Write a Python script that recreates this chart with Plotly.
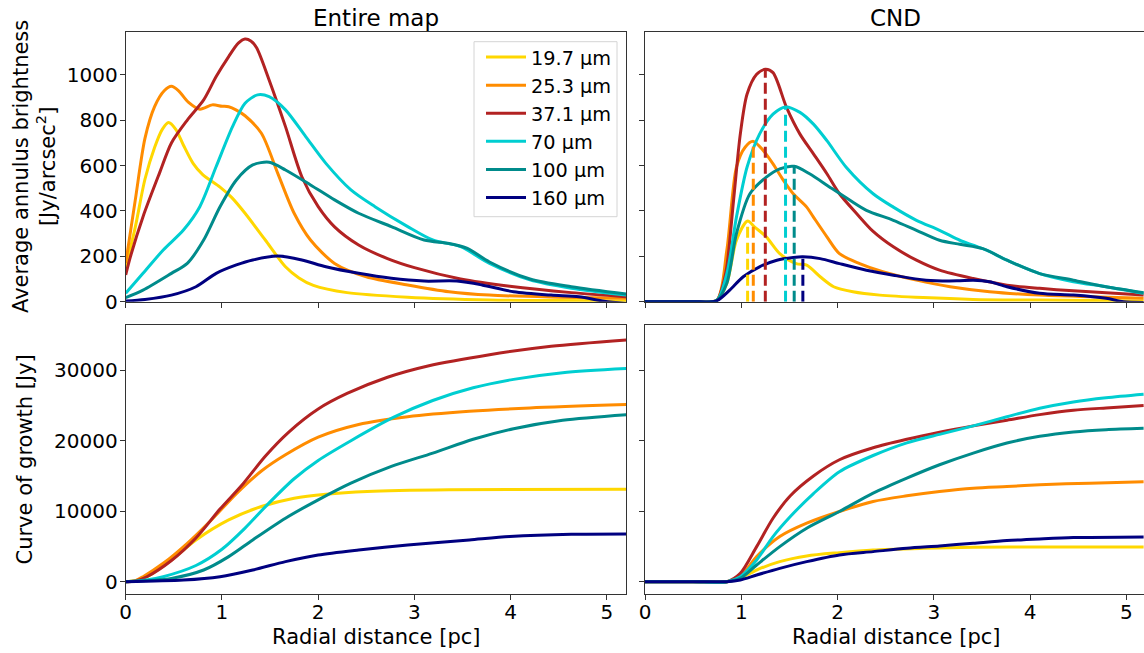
import numpy as np
import plotly.graph_objects as go

# ---------------------------------------------------------------
# Wavelength bands and their colours
# ---------------------------------------------------------------
bands = ["19.7 µm", "25.3 µm", "37.1 µm", "70 µm", "100 µm", "160 µm"]
colors = ["#FFD700", "#FF8C00", "#B22222", "#00CED1", "#008B8B", "#000080"]

# ---------------------------------------------------------------
# Entire map: average annulus brightness [Jy/arcsec^2]
# ---------------------------------------------------------------
ent_b_x_197 = [0, 0.1, 0.2, 0.3, 0.38, 0.445, 0.52, 0.6, 0.7, 0.8, 0.98, 1.1, 1.24, 1.45, 1.66, 1.8, 1.95, 2.3, 2.93, 3.78, 4.5, 5.2]
ent_b_y_197 = [150, 330, 540, 680, 760, 790, 760, 690, 610, 560, 505, 460, 390, 272, 154, 105, 72, 40, 20, 8, 5, 3]

ent_b_x_253 = [0, 0.1, 0.2, 0.3, 0.4, 0.475, 0.55, 0.65, 0.77, 0.9, 1.0, 1.07, 1.15, 1.24, 1.41, 1.58, 1.75, 1.92, 2.17, 2.5, 2.93, 3.36, 3.78, 4.5, 5.2]
ent_b_y_253 = [170, 450, 720, 860, 930, 950, 930, 880, 849, 868, 862, 860, 845, 820, 743, 566, 390, 272, 169, 110, 74, 44, 29, 20, 15]

ent_b_x_371 = [0, 0.05, 0.18, 0.35, 0.475, 0.64, 0.81, 0.94, 1.07, 1.17, 1.24, 1.3, 1.36, 1.49, 1.66, 1.83, 2.0, 2.17, 2.42, 2.72, 3.0, 3.48, 3.99, 4.63, 5.2]
ent_b_y_371 = [118, 200, 375, 566, 700, 801, 890, 993, 1081, 1140, 1158, 1150, 1120, 978, 772, 551, 419, 330, 250, 190, 150, 100, 68, 40, 22]

ent_b_x_70 = [0, 0.18, 0.39, 0.6, 0.77, 0.94, 1.11, 1.24, 1.37, 1.49, 1.66, 1.87, 2.08, 2.34, 2.59, 2.93, 3.19, 3.48, 3.78, 4.2, 4.63, 5.2]
ent_b_y_70 = [37, 125, 228, 316, 419, 596, 772, 875, 912, 904, 846, 728, 610, 493, 419, 331, 272, 243, 169, 96, 59, 29]

ent_b_x_100 = [0, 0.18, 0.475, 0.64, 0.81, 0.98, 1.15, 1.32, 1.49, 1.66, 1.92, 2.17, 2.42, 2.76, 3.1, 3.36, 3.55, 3.78, 4.2, 4.63, 5.2]
ent_b_y_100 = [18, 51, 125, 169, 272, 419, 537, 603, 615, 581, 515, 449, 390, 331, 272, 257, 235, 175, 100, 66, 34]

ent_b_x_160 = [0, 0.2, 0.475, 0.73, 0.94, 1.15, 1.32, 1.58, 1.83, 2.08, 2.42, 2.76, 3.1, 3.44, 3.7, 4.03, 4.42, 4.71, 4.97, 5.2]
ent_b_y_160 = [3, 10, 29, 66, 125, 162, 184, 201, 184, 154, 125, 103, 91, 91, 74, 44, 29, 22, 2, -8]

# ---------------------------------------------------------------
# CND: average annulus brightness [Jy/arcsec^2]
# ---------------------------------------------------------------
cnd_b_x_197 = [0, 0.5, 0.744, 0.85, 0.95, 1.066, 1.14, 1.26, 1.4, 1.57, 1.68, 1.82, 1.96, 2.16, 2.44, 2.89, 3.41, 4.1, 5.18]
cnd_b_y_197 = [0, 0, 5, 81, 271, 356, 329, 286, 212, 168, 161, 110, 66, 44, 29, 18, 10, 7, 3]

cnd_b_x_253 = [0, 0.5, 0.744, 0.85, 0.95, 1.04, 1.125, 1.23, 1.33, 1.44, 1.54, 1.68, 1.75, 1.89, 2.02, 2.23, 2.47, 2.82, 3.17, 3.58, 4.1, 4.62, 5.18]
cnd_b_y_253 = [0, 0, 5, 227, 593, 681, 707, 666, 608, 534, 476, 417, 373, 286, 212, 168, 132, 95, 66, 44, 29, 22, 15]

cnd_b_x_371 = [0, 0.5, 0.744, 0.8, 0.85, 0.92, 0.99, 1.06, 1.16, 1.25, 1.33, 1.47, 1.61, 1.75, 1.89, 2.02, 2.2, 2.37, 2.58, 2.82, 3.06, 3.41, 3.76, 4.1, 4.45, 4.79, 5.18]
cnd_b_y_371 = [0, 0, 5, 60, 154, 447, 739, 915, 1003, 1025, 1010, 857, 739, 652, 564, 476, 388, 310, 242, 183, 139, 102, 73, 59, 48, 40, 29]

cnd_b_x_70 = [0, 0.5, 0.744, 0.85, 0.95, 1.06, 1.19, 1.33, 1.46, 1.61, 1.75, 1.89, 2.09, 2.37, 2.58, 2.82, 3.06, 3.27, 3.41, 3.55, 3.76, 4.1, 4.45, 4.79, 5.18]
cnd_b_y_70 = [0, 0, 5, 124, 373, 593, 739, 827, 859, 835, 783, 710, 593, 476, 417, 359, 315, 271, 249, 227, 183, 124, 88, 66, 37]

cnd_b_x_100 = [0, 0.5, 0.744, 0.85, 0.95, 1.09, 1.26, 1.4, 1.55, 1.71, 1.92, 2.13, 2.3, 2.58, 2.82, 3.06, 3.27, 3.51, 3.76, 4.1, 4.45, 4.79, 5.18]
cnd_b_y_100 = [0, 0, 5, 81, 300, 476, 549, 586, 597, 564, 505, 447, 403, 359, 315, 271, 253, 234, 183, 124, 95, 66, 40]

cnd_b_x_160 = [0, 0.5, 0.744, 0.88, 1.02, 1.19, 1.37, 1.54, 1.64, 1.82, 2.02, 2.3, 2.58, 2.92, 3.24, 3.41, 3.58, 3.76, 4.1, 4.45, 4.79, 4.97, 5.18]
cnd_b_y_160 = [0, 0, 4, 51, 110, 154, 183, 195, 198, 190, 168, 139, 117, 95, 92, 95, 88, 66, 37, 29, 15, 0, -3]

# ---------------------------------------------------------------
# Entire map: curve of growth [Jy]
# ---------------------------------------------------------------
ent_g_x_197 = [0, 0.1, 0.22, 0.475, 0.73, 1.07, 1.41, 1.75, 2.08, 2.51, 3.36, 5.2]
ent_g_y_197 = [0, 150, 711, 3081, 5924, 8768, 10663, 11848, 12417, 12796, 13033, 13128]

ent_g_x_253 = [0, 0.1, 0.18, 0.39, 0.64, 0.9, 1.15, 1.41, 1.66, 2.0, 2.42, 2.93, 3.57, 4.2, 5.2]
ent_g_y_253 = [0, 150, 711, 2607, 5450, 8900, 12500, 15700, 18000, 20500, 22300, 23400, 24171, 24645, 25118]

ent_g_x_371 = [0, 0.1, 0.22, 0.475, 0.73, 0.98, 1.22, 1.45, 1.7, 2.0, 2.3, 2.72, 3.14, 3.78, 4.42, 5.2]
ent_g_y_371 = [0, 100, 700, 3000, 6200, 10300, 13900, 17800, 21300, 24500, 26700, 29000, 30600, 32200, 33400, 34300]

ent_g_x_70 = [0, 0.2, 0.39, 0.73, 1.0, 1.24, 1.47, 1.75, 2.0, 2.34, 2.78, 3.19, 3.61, 4.03, 4.54, 5.2]
ent_g_y_70 = [0, 200, 711, 2300, 4600, 7600, 10900, 14600, 17200, 20000, 23300, 25700, 27500, 28700, 29650, 30237]

ent_g_x_100 = [0, 0.475, 0.81, 1.07, 1.32, 1.66, 2.0, 2.34, 2.76, 3.19, 3.61, 4.03, 4.54, 5.2]
ent_g_y_100 = [0, 474, 1659, 3555, 5924, 9005, 11611, 13981, 16351, 18246, 20200, 21700, 22900, 23697]

ent_g_x_160 = [0, 0.6, 0.98, 1.32, 1.66, 2.0, 2.42, 2.93, 3.57, 3.99, 4.63, 5.2]
ent_g_y_160 = [0, 237, 711, 1659, 2844, 3791, 4502, 5213, 5924, 6398, 6730, 6777]

# ---------------------------------------------------------------
# CND: curve of growth [Jy]
# ---------------------------------------------------------------
cnd_g_x_197 = [0, 0.5, 0.85, 0.99, 1.16, 1.4, 1.68, 2.02, 2.37, 2.89, 3.41, 4.1, 5.18]
cnd_g_y_197 = [0, 0, 0, 474, 1659, 2844, 3649, 4123, 4502, 4739, 4882, 4929, 4929]

cnd_g_x_253 = [0, 0.5, 0.85, 0.99, 1.16, 1.4, 1.68, 2.02, 2.37, 2.72, 3.06, 3.41, 3.76, 4.1, 4.62, 5.18]
cnd_g_y_253 = [0, 0, 0, 711, 3555, 6398, 8294, 9953, 11374, 12180, 12796, 13270, 13507, 13744, 13981, 14171]

cnd_g_x_371 = [0, 0.5, 0.85, 0.99, 1.16, 1.33, 1.51, 1.75, 2.02, 2.37, 2.72, 3.06, 3.41, 3.76, 4.1, 4.45, 4.79, 5.18]
cnd_g_y_371 = [0, 0, 0, 1185, 4976, 9000, 12200, 15000, 17300, 19000, 20200, 21200, 22100, 22900, 23697, 24313, 24645, 24976]

cnd_g_x_70 = [0, 0.5, 0.85, 0.99, 1.16, 1.33, 1.51, 1.75, 2.02, 2.37, 2.72, 3.06, 3.41, 3.76, 4.1, 4.45, 4.79, 5.18]
cnd_g_y_70 = [0, 0, 0, 711, 3081, 6398, 9242, 12500, 15600, 17900, 19700, 20900, 22100, 23400, 24600, 25500, 26100, 26600]

cnd_g_x_100 = [0, 0.5, 0.85, 0.99, 1.16, 1.4, 1.68, 2.02, 2.37, 2.72, 3.06, 3.41, 3.76, 4.1, 4.45, 4.79, 5.18]
cnd_g_y_100 = [0, 0, 0, 474, 2370, 4976, 7583, 9953, 12559, 14692, 16588, 18246, 19668, 20616, 21232, 21564, 21754]

cnd_g_x_160 = [0, 0.5, 0.85, 0.99, 1.16, 1.4, 1.68, 2.02, 2.37, 2.72, 3.06, 3.41, 3.76, 4.1, 4.45, 5.18]
cnd_g_y_160 = [0, 0, 0, 237, 948, 1896, 2844, 3791, 4265, 4739, 5071, 5450, 5829, 6066, 6256, 6351]

# Axis ticks
x_ticks = [0, 1, 2, 3, 4, 5]
bright_ticks = [0, 200, 400, 600, 800, 1000]
growth_ticks = [0, 10000, 20000, 30000]

# ---------------------------------------------------------------
# Panel geometry (paper fractions)
# ---------------------------------------------------------------
W, H = 1144, 653
left_dom = [125.7 / W, 626.2 / W]
right_dom = [645.0 / W, 1.0]
top_dom = [1 - 301.7 / H, 1 - 32.3 / H]
bot_dom = [1 - 594.0 / H, 1 - 325.0 / H]
FONT = "DejaVu Sans"
AX = "#333333"
TICK_SIZE = 20
LABEL_SIZE = 21
TITLE_SIZE = 23
LEGEND_SIZE = 19.3

panels = {
    ("x", "y"): [(ent_b_x_197, ent_b_y_197), (ent_b_x_253, ent_b_y_253), (ent_b_x_371, ent_b_y_371),
                 (ent_b_x_70, ent_b_y_70), (ent_b_x_100, ent_b_y_100), (ent_b_x_160, ent_b_y_160)],
    ("x2", "y2"): [(cnd_b_x_197, cnd_b_y_197), (cnd_b_x_253, cnd_b_y_253), (cnd_b_x_371, cnd_b_y_371),
                   (cnd_b_x_70, cnd_b_y_70), (cnd_b_x_100, cnd_b_y_100), (cnd_b_x_160, cnd_b_y_160)],
    ("x3", "y3"): [(ent_g_x_197, ent_g_y_197), (ent_g_x_253, ent_g_y_253), (ent_g_x_371, ent_g_y_371),
                   (ent_g_x_70, ent_g_y_70), (ent_g_x_100, ent_g_y_100), (ent_g_x_160, ent_g_y_160)],
    ("x4", "y4"): [(cnd_g_x_197, cnd_g_y_197), (cnd_g_x_253, cnd_g_y_253), (cnd_g_x_371, cnd_g_y_371),
                   (cnd_g_x_70, cnd_g_y_70), (cnd_g_x_100, cnd_g_y_100), (cnd_g_x_160, cnd_g_y_160)],
}

fig = go.Figure()
for (xa, ya), series in panels.items():
    for i, (xs, ys) in enumerate(series):
        fig.add_trace(go.Scatter(
            x=xs, y=ys, mode="lines", xaxis=xa, yaxis=ya,
            line=dict(color=colors[i], width=3, shape="spline", smoothing=0.8),
            name=bands[i], legendgroup=bands[i],
            showlegend=(xa == "x"),
        ))

# Dashed markers at the peak of each CND brightness profile
for i, (xs, ys) in enumerate(panels[("x2", "y2")]):
    k = int(np.argmax(ys))
    fig.add_trace(go.Scatter(
        x=[xs[k], xs[k]], y=[0, ys[k]], mode="lines", xaxis="x2", yaxis="y2",
        line=dict(color=colors[i], width=3, dash="11px,5px"),
        showlegend=False, hoverinfo="skip",
    ))


def axis(domain, rng, anchor, tickvals, labels=True, mirror=True, standoff=0):
    return dict(
        domain=domain, range=rng, anchor=anchor, tickvals=tickvals, tickformat="d",
        showticklabels=labels, ticks="outside", ticklen=5, tickwidth=1, tickcolor=AX,
        ticklabelstandoff=standoff, automargin=False,
        showline=True, linecolor=AX, linewidth=1, mirror=mirror,
        showgrid=False, zeroline=False, tickfont=dict(size=TICK_SIZE, color="black", family=FONT),
    )


fig.update_layout(
    width=W, height=H, autosize=False,
    margin=dict(l=0, r=0, t=0, b=0, pad=0, autoexpand=False),
    paper_bgcolor="white", plot_bgcolor="white",
    font=dict(family=FONT, size=TICK_SIZE, color="black"),
    xaxis=axis(left_dom, [0, 5.2], "y", x_ticks, labels=False),
    yaxis=axis(top_dom, [0, 1188], "x", bright_ticks, standoff=-2),
    xaxis2=axis(right_dom, [0, 5.184], "y2", x_ticks, labels=False),
    yaxis2=axis(top_dom, [0, 1188], "x2", bright_ticks, labels=False, mirror=False),
    xaxis3=axis(left_dom, [0, 5.2], "y3", x_ticks, standoff=-5),
    yaxis3=axis(bot_dom, [-1745, 36410], "x3", growth_ticks, standoff=-2),
    xaxis4=axis(right_dom, [0, 5.184], "y4", x_ticks, standoff=-5),
    yaxis4=axis(bot_dom, [-1745, 36410], "x4", growth_ticks, labels=False, mirror=False),
    legend=dict(
        x=617 / W, xanchor="right", y=1 - 38 / H, yanchor="top",
        borderwidth=0, bgcolor="rgba(0,0,0,0)",
        font=dict(size=LEGEND_SIZE, family=FONT, color="black"),
        tracegroupgap=0, itemwidth=40,
    ),
    showlegend=True,
    # semi-transparent legend frame
    shapes=[dict(
        type="rect", xref="paper", yref="paper",
        x0=474 / W, x1=617 / W, y0=1 - 216.7 / H, y1=1 - 41.7 / H,
        line=dict(color="#d4d4d4", width=1), fillcolor="rgba(255,255,255,0.8)", layer="above",
    )],
)

ann = [
    dict(text="Entire map", x=(left_dom[0] + left_dom[1]) / 2, y=1 - 18 / H, font=dict(size=TITLE_SIZE)),
    dict(text="CND", x=895.5 / W, y=1 - 18 / H, font=dict(size=TITLE_SIZE)),
    dict(text="Average annulus brightness<br>[Jy/arcsec<sup>2</sup>]", x=34 / W, y=1 - 167 / H,
         textangle=-90, font=dict(size=LABEL_SIZE)),
    dict(text="Curve of growth [Jy]", x=24 / W, y=1 - 459.5 / H, textangle=-90, font=dict(size=LABEL_SIZE)),
    dict(text="Radial distance [pc]", x=(left_dom[0] + left_dom[1]) / 2, y=1 - 637 / H, font=dict(size=LABEL_SIZE)),
    dict(text="Radial distance [pc]", x=895.5 / W, y=1 - 637 / H, font=dict(size=LABEL_SIZE)),
]
for a in ann:
    a.update(xref="paper", yref="paper", showarrow=False, xanchor="center", yanchor="middle")
    a["font"].update(family=FONT, color="black")
fig.update_layout(annotations=ann)

fig.write_html("out.html", include_plotlyjs=True, config={"displayModeBar": False})
